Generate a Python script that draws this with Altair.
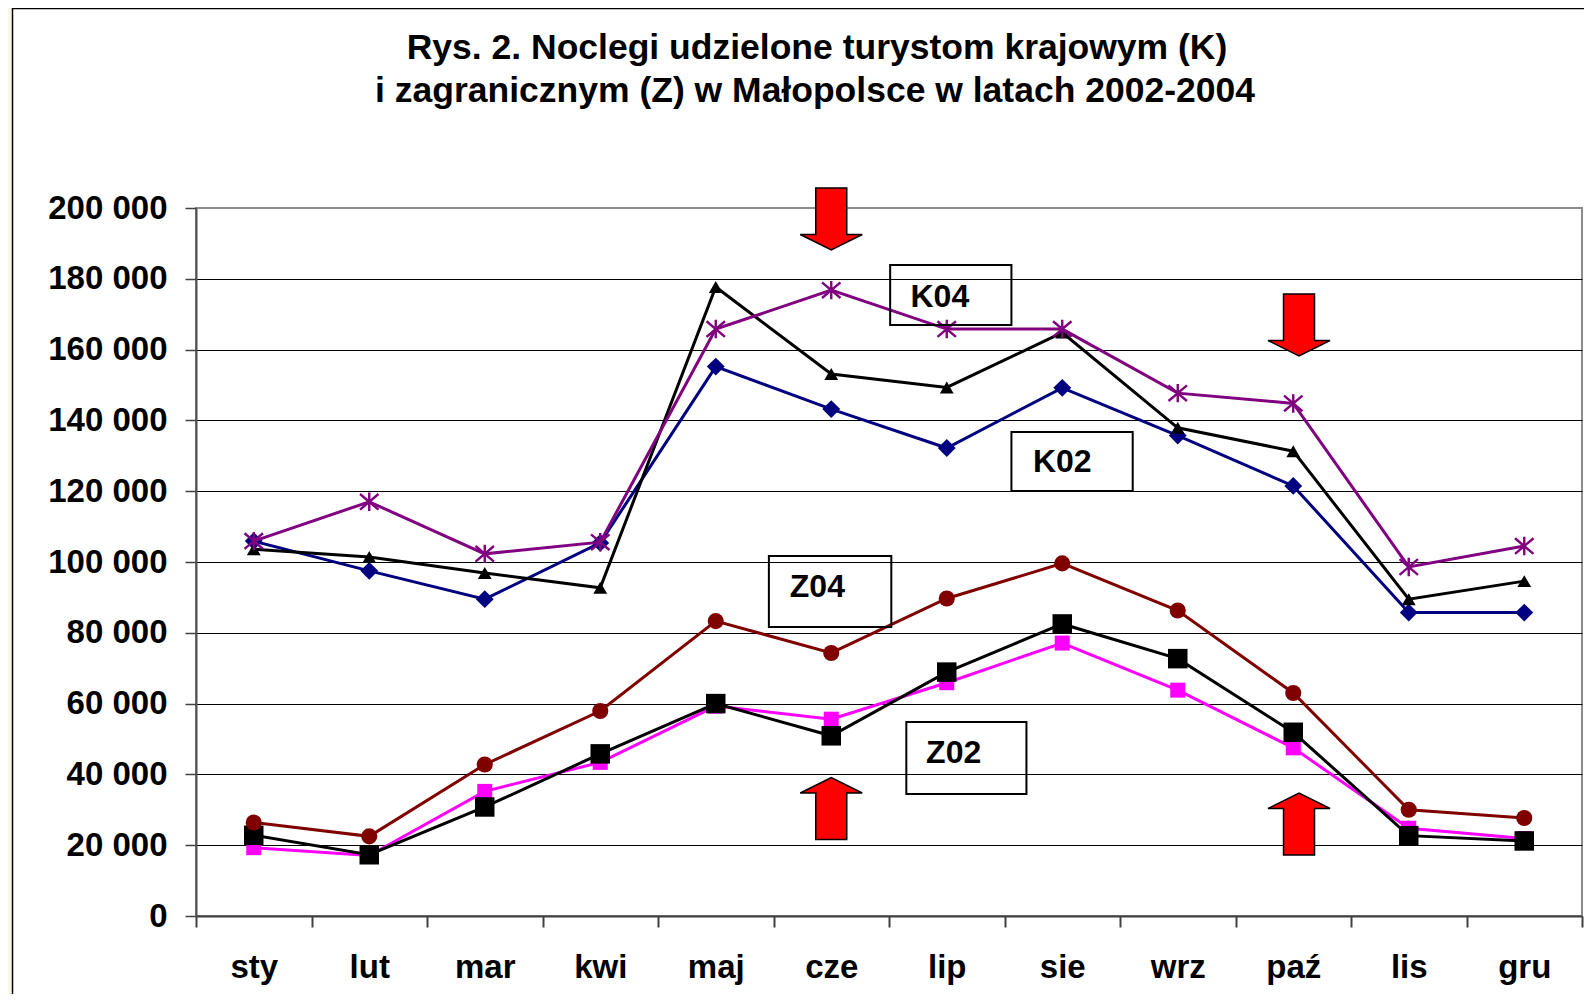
import altair as alt
import pandas as pd

# ---------------- data ----------------
months = ["sty", "lut", "mar", "kwi", "maj", "cze", "lip", "sie", "wrz", "paź", "lis", "gru"]

K02 = [105900, 97500, 89500, 105400, 155200, 143200, 132200, 149200, 135700, 121500, 85700, 85700]
K03 = [103600, 101400, 96900, 92700, 177700, 153100, 149300, 164800, 137900, 131300, 89500, 94600]
K04 = [105900, 117000, 102300, 105600, 165800, 176800, 165800, 165800, 147700, 144800, 98600, 104500]
Z02 = [19300, 17100, 35200, 43400, 59300, 55600, 65900, 77100, 63800, 47500, 24800, 21900]
Z03 = [22800, 17300, 30800, 45800, 60000, 50900, 68900, 82500, 72700, 51900, 22700, 21200]
Z04 = [26400, 22500, 42800, 57900, 83300, 74300, 89700, 99600, 86300, 63000, 30000, 27700]

series_names = ["K02", "K03", "K04", "Z02", "Z03", "Z04"]
series_values = [K02, K03, K04, Z02, Z03, Z04]

y_ticks = [0, 20000, 40000, 60000, 80000, 100000, 120000, 140000, 160000, 180000, 200000]

title_lines = ["Rys. 2. Noclegi udzielone turystom krajowym (K)",
               "i zagranicznym (Z) w Małopolsce w latach 2002-2004"]

# annotation boxes (x in month units 0..12, y in data units)
box_labels = ["K04", "K02", "Z04", "Z02"]
box_x1 = [6.01, 7.06, 4.96, 6.15]
box_x2 = [7.06, 8.11, 6.02, 7.19]
box_y1 = [183900, 136700, 101700, 54800]
box_y2 = [166950, 120060, 81640, 34460]
label_x = [6.44, 7.50, 5.38, 6.56]
label_y = [174860, 128250, 92940, 46050]

# arrows
arrow_x = [5.5, 9.55, 5.5, 9.55]
arrow_y = [196900, 166950, 30370, 25990]
arrow_dir = ["down", "down", "up", "up"]

# ---------------- tables ----------------
rows = []
for name, vals in zip(series_names, series_values):
    for m, v in zip(months, vals):
        rows.append({"series": name, "month": m, "value": v})
df = pd.DataFrame(rows)

boxes = pd.DataFrame({"label": box_labels, "x1": box_x1, "x2": box_x2,
                      "y1": box_y1, "y2": box_y2, "tx": label_x, "ty": label_y})
arrows = pd.DataFrame({"ax": arrow_x, "ay": arrow_y, "dir": arrow_dir})
one = pd.DataFrame({"a": [0]})
titles = pd.DataFrame({"t": title_lines})

# ---------------- styling ----------------
W, H = 1386, 708
FONT = "Liberation Sans, Arial, sans-serif"

styles = {
    "K02": dict(color="#000080", shape="diamond", size=320, filled=True),
    "K03": dict(color="#000000", shape="triangle-up", size=190, filled=True),
    "K04": dict(color="#800080", shape="M-1,-0.85L1,0.85M-1,0.85L1,-0.85M0,-1L0,1", size=340, filled=False),
    "Z02": dict(color="#FF00FF", shape="square", size=225, filled=True),
    "Z03": dict(color="#000000", shape="square", size=380, filled=True),
    "Z04": dict(color="#800000", shape="circle", size=260, filled=True),
}

x_enc = alt.X("month:N", sort=months,
              scale=alt.Scale(type="band", domain=months, paddingInner=0, paddingOuter=0),
              axis=alt.Axis(title=None, labelAngle=0, tickBand="extent", grid=False,
                            labelFont=FONT, labelFontSize=33, labelFontWeight="bold",
                            labelColor="black", labelPadding=24, tickSize=11, tickWidth=2,
                            tickColor="#404040", domainColor="#404040", domainWidth=2))

y_axis = alt.Axis(title=None, values=y_ticks,
                  labelExpr="datum.value == 0 ? '0' : format(datum.value/1000, 'd') + ' 000'",
                  labelFont=FONT, labelFontSize=33, labelFontWeight="bold", labelColor="black",
                  labelPadding=18, tickSize=11, tickWidth=1.5, tickColor="#404040",
                  domainColor="#505050", domainWidth=2,
                  grid=True,
                  gridColor=alt.condition("datum.value == 200000", alt.value("#8C8C8C"), alt.value("#000000")),
                  gridWidth=1.2)
y_scale = alt.Scale(domain=[0, 200000], nice=False, zero=True)
y_enc = alt.Y("value:Q", scale=y_scale, axis=y_axis)

series_layers = []
for name in series_names:
    s = styles[name]
    base = alt.Chart(df).transform_filter(alt.datum.series == name)
    series_layers.append(base.mark_line(color=s["color"], strokeWidth=3).encode(x=x_enc, y=y_enc))
    if s["filled"]:
        pt = base.mark_point(shape=s["shape"], size=s["size"], filled=True,
                             color=s["color"], opacity=1, strokeWidth=0)
    else:
        pt = base.mark_point(shape=s["shape"], size=s["size"], filled=False,
                             color=s["color"], opacity=1, strokeWidth=2.4)
    series_layers.append(pt.encode(x=x_enc, y=y_enc))

main = alt.layer(*series_layers)

qx = alt.Scale(domain=[0, 12], nice=False, zero=False)

box_layer = alt.Chart(boxes).mark_rect(fillOpacity=0, stroke="black", strokeWidth=2).encode(
    x=alt.X("x1:Q", scale=qx, axis=None), x2="x2:Q",
    y=alt.Y("y1:Q", scale=y_scale, axis=y_axis), y2="y2:Q")
text_layer = alt.Chart(boxes).mark_text(font=FONT, fontSize=32, fontWeight="bold",
                                        color="black", align="center", baseline="middle").encode(
    x=alt.X("tx:Q", scale=qx, axis=None),
    y=alt.Y("ty:Q", scale=y_scale, axis=y_axis),
    text="label:N")

down_path = "M-0.5,-1L0.5,-1L0.5,0.5L1,0.5L0,1L-1,0.5L-0.5,0.5Z"
up_path = "M-0.5,1L0.5,1L0.5,-0.5L1,-0.5L0,-1L-1,-0.5L-0.5,-0.5Z"
arrow_layer = alt.Chart(arrows).mark_point(filled=True, fill="#FF0000", color="#FF0000",
                                           stroke="black", strokeWidth=1.5, opacity=1,
                                           size=3844).encode(
    x=alt.X("ax:Q", scale=qx, axis=None),
    y=alt.Y("ay:Q", scale=y_scale, axis=y_axis),
    shape=alt.Shape("dir:N", scale=alt.Scale(domain=["down", "up"], range=[down_path, up_path]),
                    legend=None))

annot = alt.layer(box_layer, text_layer, arrow_layer)

cream = alt.Chart(one).mark_rect(color="#FDF5E6").encode(
    x=alt.value(-188), x2=alt.value(-184), y=alt.value(-200), y2=alt.value(H + 90))
border_left = alt.Chart(one).mark_rule(color="black", strokeWidth=1.5).encode(
    x=alt.value(-183.5), y=alt.value(-200), y2=alt.value(H + 90))
border_top = alt.Chart(one).mark_rule(color="black", strokeWidth=1.5).encode(
    x=alt.value(-184), x2=alt.value(W + 2), y=alt.value(-199.5))

# chart title (two lines), centred over the framed figure
title1 = alt.Chart(titles).transform_filter(alt.datum.t == title_lines[0]).mark_text(
    font=FONT, fontSize=35.5, fontWeight="bold", color="black", align="center",
    baseline="alphabetic").encode(text="t:N", x=alt.value(621), y=alt.value(-149))
title2 = alt.Chart(titles).transform_filter(alt.datum.t == title_lines[1]).mark_text(
    font=FONT, fontSize=35.5, fontWeight="bold", color="black", align="center",
    baseline="alphabetic").encode(text="t:N", x=alt.value(619), y=alt.value(-106))

chart = alt.layer(cream, border_left, border_top, title1, title2, main, annot).resolve_scale(
    x="independent"
).properties(
    width=W, height=H,
    padding={"left": 188, "top": 200, "right": 2, "bottom": 78},
    autosize=alt.AutoSizeParams(type="none"),
    background="white",
).configure_view(stroke="#8C8C8C", strokeWidth=2)

chart.save("out.html", embed_options={"renderer": "svg", "actions": False})
